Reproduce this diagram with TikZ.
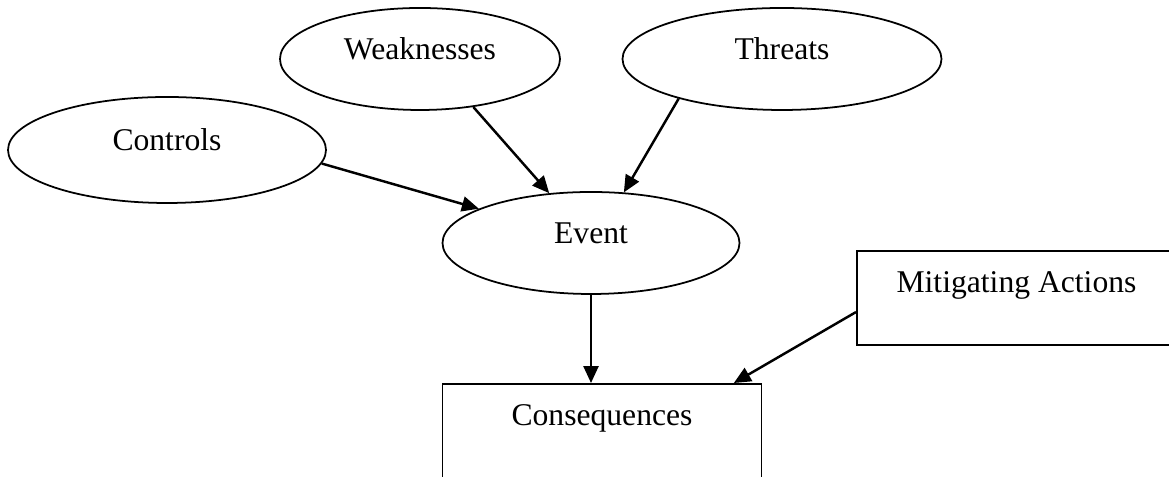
\documentclass[tikz,border=0pt]{standalone}
\usepackage{fontspec}
\setmainfont{Liberation Serif}
\usetikzlibrary{shapes.geometric}
\usetikzlibrary{arrows.meta}

\begin{document}
\begin{tikzpicture}[
    oval/.style={draw, ellipse, line width=1pt, inner sep=0pt, font=\fontsize{18}{22}\selectfont, text height=0.45cm, text depth=0.43cm},
    rbox/.style={draw, rectangle, line width=1.1pt, minimum width=6.38cm, minimum height=1.88cm, inner sep=0pt, font=\fontsize{18}{22}\selectfont, text height=0.45cm, text depth=0.67cm},
    arr/.style={-{Triangle[length=0.34cm,width=0.3cm]}, line width=1.4pt}
]
    \useasboundingbox (0,0) rectangle (23.38,9.54);
    \node[oval, minimum width=6.36cm, minimum height=2.12cm] (controls) at (3.34,6.54) {Controls};
    \node[oval, minimum width=5.6cm, minimum height=2.04cm] (weak) at (8.40,8.36) {Weaknesses};
    \node[oval, minimum width=6.38cm, minimum height=2.04cm] (threats) at (15.64,8.36) {Threats};
    \node[oval, minimum width=5.94cm, minimum height=2.04cm] (event) at (11.82,4.68) {Event};
    \node[rbox] (cons) at (12.04,0.92) {Consequences};
    \node[rbox] (mitig) at (20.33,3.58) {Mitigating Actions};
    \draw[arr] (controls.-5) -- (event.163);
    \draw[arr] (weak.-42) -- (event.130);
    \draw[arr] (threats.-159) -- (event.57);
    \draw[arr] (event.south) -- (event.south |- cons.north);
    \draw[arr] (mitig.185) -- (cons.20);
\end{tikzpicture}
\end{document}
